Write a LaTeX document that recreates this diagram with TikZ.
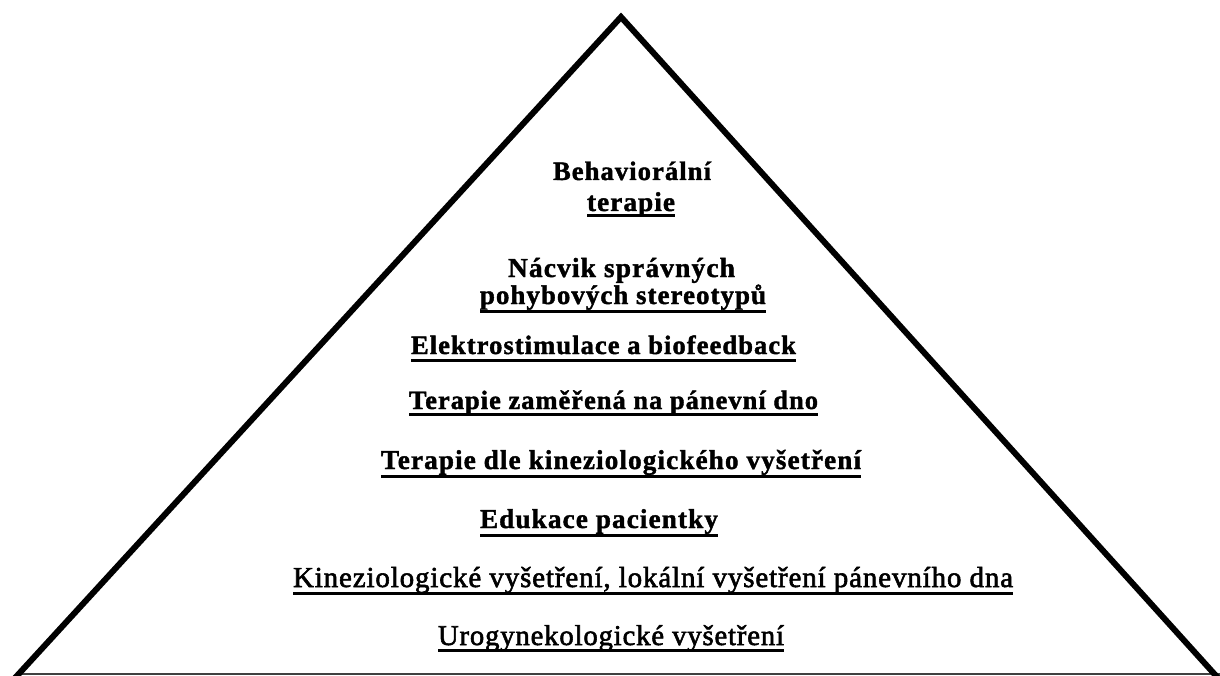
\documentclass[tikz,border=0pt]{standalone}
\usepackage{fontspec}
\setmainfont{Liberation Serif}
\newfontfamily\spacedserif[LetterSpace=4,FakeBold=1.5]{Liberation Serif Bold}
\newfontfamily\timesface[LetterSpace=3,FakeBold=2]{Liberation Serif}
\newcommand\boldface{\spacedserif}
\begin{document}
\begin{tikzpicture}[x=1pt,y=1pt,
  lbl/.style={anchor=base west,inner sep=0pt,outer sep=0pt,text=black},
  uline/.style={line width=3pt,black},
  side/.style={line width=6pt,black,line join=miter},
  baseln/.style={line width=2pt,black!75}]
\useasboundingbox (0,0) rectangle (1220,-676);
\fill[white] (0,0) rectangle (1220,-676);
\begin{scope}
\clip (0,0) rectangle (1220,-676);
\coordinate (apex) at (621,-17);
\coordinate (bl) at (15,-678);
\coordinate (br) at (1218,-678);
\coordinate (b0) at (18,-674);
\coordinate (b1) at (1220,-674);
\draw[baseln] (b0) -- (b1);
\draw[side] (bl) -- (apex) -- (br);
\end{scope}
% labels
\node[lbl] (t1) at (553,-180) {\resizebox{158pt}{!}{\fontsize{24}{28}\boldface Behaviorální}};
\node[lbl] (t2) at (587,-211) {\resizebox{88pt}{!}{\fontsize{24}{28}\boldface terapie}};
\node[lbl] (t3) at (508,-277) {\resizebox{227pt}{!}{\fontsize{24}{28}\boldface Nácvik správných}};
\node[lbl] (t4) at (480,-304) {\resizebox{286pt}{!}{\fontsize{24}{28}\boldface pohybových stereotypů}};
\node[lbl] (t5) at (411,-354) {\resizebox{385pt}{!}{\fontsize{24}{28}\boldface Elektrostimulace a biofeedback}};
\node[lbl] (t6) at (409,-409) {\resizebox{409pt}{!}{\fontsize{24}{28}\boldface Terapie zaměřená na pánevní dno}};
\node[lbl] (t7) at (381,-469) {\resizebox{480pt}{!}{\fontsize{24}{28}\boldface Terapie dle kineziologického vyšetření}};
\node[lbl] (t8) at (480,-528) {\resizebox{238pt}{!}{\fontsize{24}{28}\boldface Edukace pacientky}};
\node[lbl] (t9) at (293,-587) {\resizebox{720pt}{!}{\fontsize{24}{28}\timesface Kineziologické vyšetření, lokální vyšetření pánevního dna}};
\node[lbl] (t10) at (438,-645) {\resizebox{346pt}{!}{\fontsize{24}{28}\timesface Urogynekologické vyšetření}};
% underlines
\draw[uline] ([yshift=-5pt]t2.base west) -- ([yshift=-5pt]t2.base east);
\draw[uline] ([yshift=-7pt]t4.base west) -- ([yshift=-7pt]t4.base east);
\draw[uline] ([yshift=-6pt]t5.base west) -- ([yshift=-6pt]t5.base east);
\draw[uline] ([yshift=-5pt]t6.base west) -- ([yshift=-5pt]t6.base east);
\draw[uline] ([yshift=-7pt]t7.base west) -- ([yshift=-7pt]t7.base east);
\draw[uline] ([yshift=-7pt]t8.base west) -- ([yshift=-7pt]t8.base east);
\draw[uline] ([yshift=-6pt]t9.base west) -- ([yshift=-6pt]t9.base east);
\draw[uline] ([yshift=-5pt]t10.base west) -- ([yshift=-5pt]t10.base east);
\end{tikzpicture}
\end{document}
